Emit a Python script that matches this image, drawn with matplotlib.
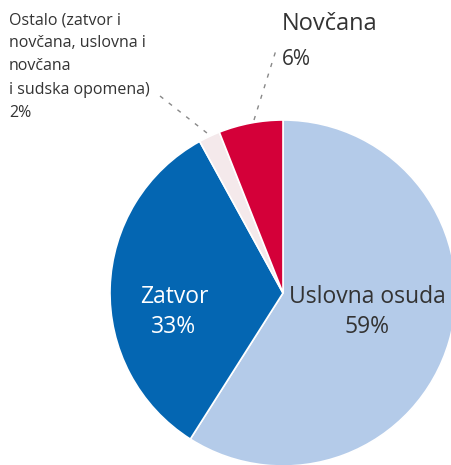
import matplotlib.pyplot as plt

# ── data ──────────────────────────────────────────────────────────────────────
categories = ["Uslovna osuda", "Zatvor", "Ostalo", "Novčana"]
shares = [59, 33, 2, 6]
colors = ["#b4cbe9", "#0466b2", "#f4e9eb", "#d40039"]

W, H = 451, 465
plt.rcParams['font.family'] = ['Open Sans', 'DejaVu Sans']

fig = plt.figure(figsize=(W / 100, H / 100), dpi=100)
ax = fig.add_axes([0, 0, 1, 1])

# pixel-like coords: y measured from the bottom
cx, cy, r = 283, H - 293, 173
ax.pie(shares, colors=colors, startangle=90, counterclock=False,
       center=(cx, cy), radius=r,
       wedgeprops=dict(edgecolor="white", linewidth=1.2))
ax.set_xlim(0, W)
ax.set_ylim(0, H)
ax.set_aspect("equal")
ax.axis("off")

def py(y):
    return H - y

txt_col = "#333333"

# labels inside the pie
ax.text(367, py(297), categories[0], ha="center", va="center",
        fontsize=16.5, color=txt_col)
ax.text(367, py(327), f"{shares[0]}%", ha="center", va="center",
        fontsize=16.5, color=txt_col)
ax.text(174, py(297), categories[1], ha="center", va="center",
        fontsize=16.5, color="white")
ax.text(174, py(327), f"{shares[1]}%", ha="center", va="center",
        fontsize=16.5, color="white")

# Novčana, outside with leader
ax.text(282, py(24), categories[3], ha="left", va="center",
        fontsize=17, color=txt_col)
ax.text(282, py(59), f"{shares[3]}%", ha="left", va="center",
        fontsize=15, color=txt_col)
ax.plot([254, 277], [py(120), py(47)], color="#888888", lw=1.0,
        ls=(0, (3, 5)))

# Ostalo, outside with leader
ostalo_txt = ("Ostalo (zatvor i\nnovčana, uslovna i\nnovčana\n"
              "i sudska opomena)\n" + f"{shares[2]}%")
ax.text(9, py(12), ostalo_txt, ha="left", va="top", fontsize=11.5,
        fontweight="medium", color=txt_col, linespacing=1.6)
ax.plot([160, 212], [py(96), py(137)], color="#888888", lw=1.0,
        ls=(0, (3, 5)))

fig.savefig("out.png", dpi=100)
